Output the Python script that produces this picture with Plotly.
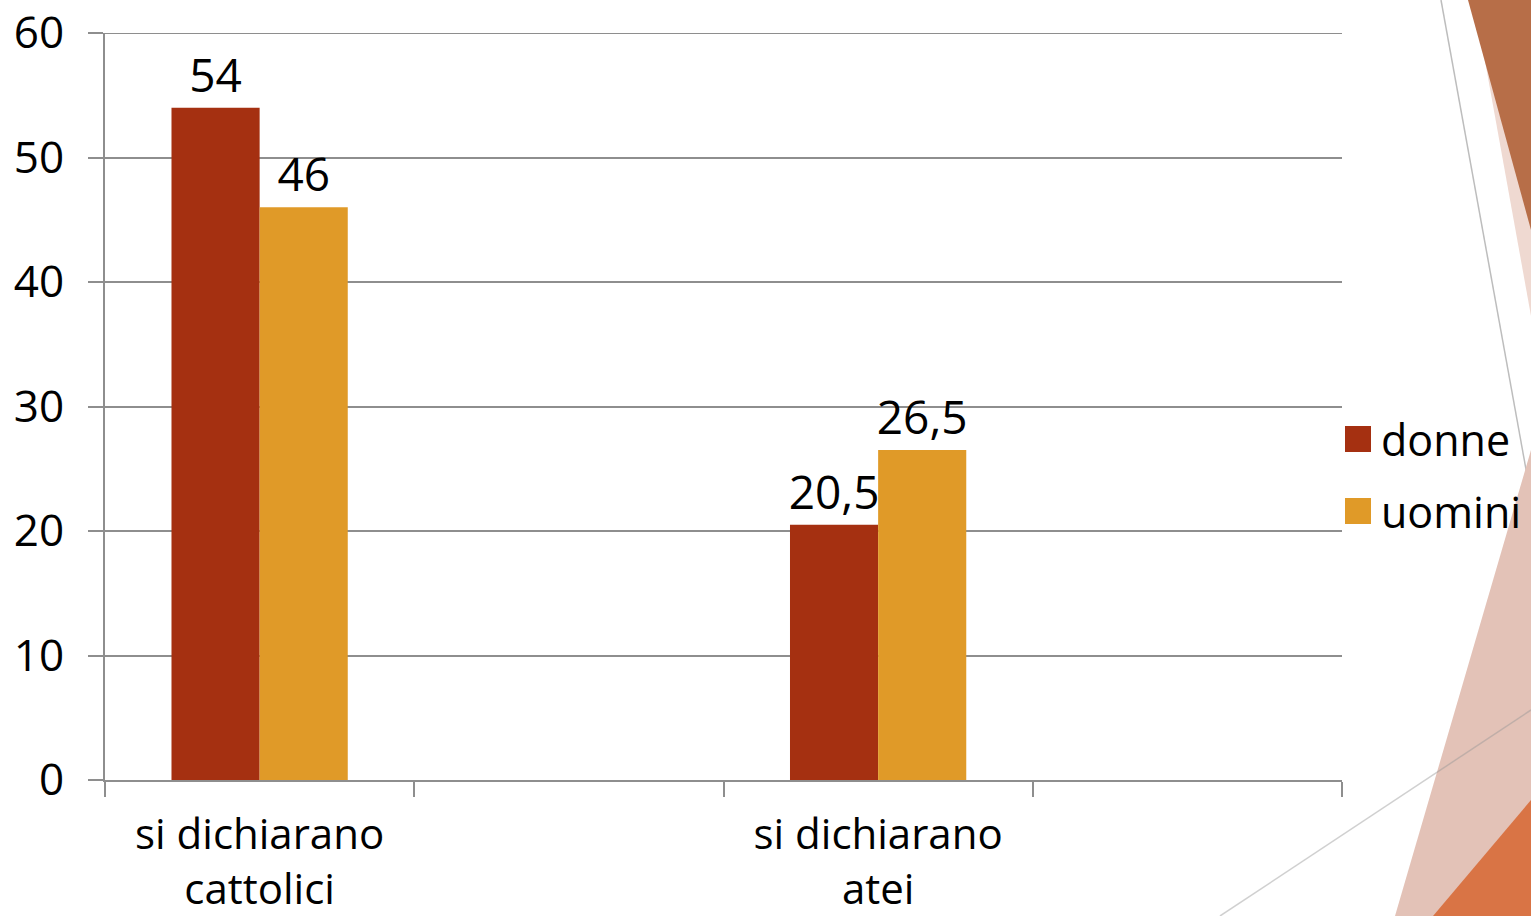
import plotly.graph_objects as go

# ---- data ----
categories = ["si dichiarano<br>cattolici", " ", "si dichiarano<br>atei", "  "]
series_names = ["donne", "uomini"]
donne = [54, None, 20.5, None]
uomini = [46, None, 26.5, None]
colors = {"donne": "#A53011", "uomini": "#E09A28"}
y_max = 60

W, H = 1531, 916
L, R, T, B = 105, 189, 33, 136
PW, PH = W - L - R, H - T - B
FONT = "Open Sans"
GRID = "#8E8E8E"


def px(x):
    return (x - L) / PW


def py(y):
    return (H - B - y) / PH


def fmt(v):
    return "" if v is None else (f"{v:g}".replace(".", ","))


fig = go.Figure()
for name, vals in zip(series_names, [donne, uomini]):
    fig.add_trace(go.Bar(
        x=categories, y=vals, name=name,
        marker=dict(color=colors[name], line=dict(width=0)),
        text=[fmt(v) for v in vals], textposition="outside",
        textfont=dict(family=FONT, size=46, color="black"),
        cliponaxis=False, constraintext="none", showlegend=False,
    ))

shapes = []


def poly(pts, color):
    path = "M" + "L".join(f"{px(a):.5f},{py(b):.5f}" for a, b in pts) + "Z"
    return dict(type="path", xref="paper", yref="paper", path=path,
                fillcolor=color, line=dict(width=0), layer="below")


# decorative slide shapes
shapes.append(poly([(1474, 0), (1531, 0), (1531, 316)], "#EFD9D1"))
shapes.append(poly([(1468, 0), (1531, 0), (1531, 230)], "#B76E48"))
shapes.append(dict(type="line", xref="paper", yref="paper", x0=px(1441), y0=py(0), x1=px(1531), y1=py(497),
                   line=dict(color="#BDBDBD", width=1.5), layer="below"))
shapes.append(poly([(1395, 916), (1531, 450), (1531, 916)], "#E3C2B7"))
shapes.append(poly([(1433, 916), (1531, 800), (1531, 916)], "#D97445"))
shapes.append(dict(type="line", xref="paper", yref="paper", x0=px(1220), y0=py(916), x1=px(1531), y1=py(710),
                   line=dict(color="rgba(150,150,150,0.45)", width=1.5), layer="below"))

# top gridline (at the range edge)
shapes.append(dict(type="line", xref="paper", yref="y", x0=0, x1=1, y0=y_max, y1=y_max,
                   line=dict(color=GRID, width=2), layer="below"))

# manual legend
annotations = []
for i, name in enumerate(series_names):
    cy = 439 + i * 72
    shapes.append(dict(type="rect", xref="paper", yref="paper",
                       x0=px(1345), x1=px(1371), y0=py(cy - 13), y1=py(cy + 13),
                       fillcolor=colors[name], line=dict(width=0), layer="above"))
    annotations.append(dict(xref="paper", yref="paper", x=px(1379), y=py(cy), xanchor="left", yanchor="middle",
                            text=name, showarrow=False, font=dict(family=FONT, size=43, color="black")))

fig.update_layout(
    width=W, height=H, autosize=False,
    margin=dict(l=L, r=R, t=T, b=B, pad=0),
    paper_bgcolor="white", plot_bgcolor="white",
    barmode="group", bargap=0.43, bargroupgap=0,
    shapes=shapes, annotations=annotations,
    font=dict(family=FONT, color="black"),
)
fig.update_xaxes(
    type="category", categoryorder="array", categoryarray=categories,
    range=[-0.5, 3.5], tickson="boundaries", ticks="outside", ticklen=15, tickwidth=2, tickcolor=GRID,
    showline=True, linecolor=GRID, linewidth=2, showgrid=False, zeroline=False,
    tickfont=dict(family=FONT, size=42, color="black"), automargin=False, ticklabelstandoff=17,
    ticklabeloverflow="allow",
)
fig.update_yaxes(
    range=[0, y_max], dtick=10, tick0=0, ticks="outside", ticklen=15, tickwidth=2, tickcolor=GRID,
    showline=True, linecolor=GRID, linewidth=2, showgrid=True, gridcolor=GRID, gridwidth=2,
    zeroline=False, tickfont=dict(family=FONT, size=44, color="black"), automargin=False,
    ticklabelstandoff=15, ticklabeloverflow="allow",
)

fig.write_html("out.html")
